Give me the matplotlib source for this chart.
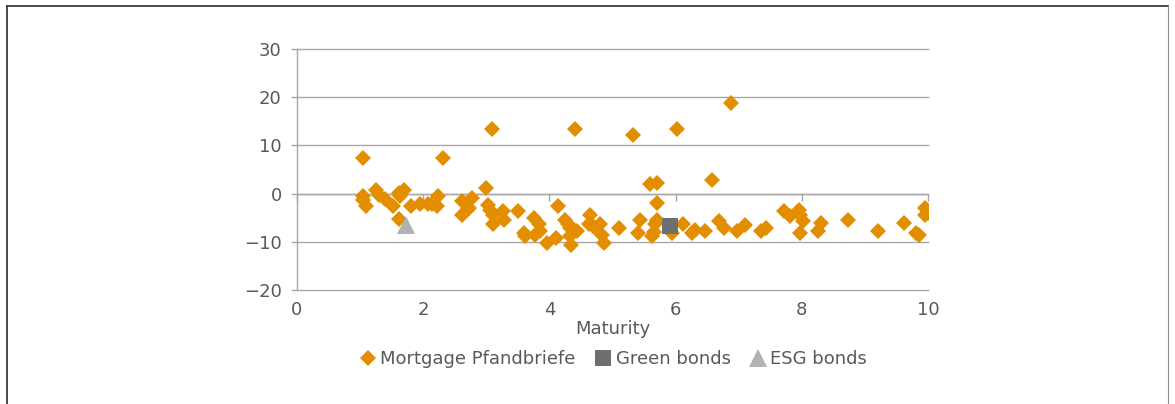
import matplotlib
matplotlib.use("Agg")
import matplotlib.pyplot as plt
from matplotlib.lines import Line2D

# ---- data ----
mortgage_x = [1.05, 1.05, 1.05, 1.10, 1.25, 1.30, 1.39, 1.52, 1.61, 1.69, 1.64, 1.62, 1.80, 1.95,
              2.07, 2.14, 2.23, 2.22, 2.32, 2.61, 2.61, 2.70, 2.78, 2.72, 2.99, 3.03, 3.06, 3.11,
              3.11, 3.09, 3.27, 3.28, 3.51, 3.59, 3.61, 3.75, 3.83, 3.77, 3.85, 3.96, 4.10, 4.14,
              4.25, 4.30, 4.33, 4.39, 4.33, 4.35, 4.43, 4.41, 4.64, 4.62, 4.70, 4.80, 4.83, 4.86,
              5.11, 5.32, 5.41, 5.44, 5.59, 5.70, 5.70, 5.62, 5.67, 5.70, 5.65, 5.95, 6.03, 6.12,
              6.26, 6.30, 6.47, 6.58, 6.68, 6.76, 6.88, 6.97, 7.10, 7.36, 7.44, 7.71, 7.81, 7.95,
              7.97, 8.02, 7.97, 8.31, 8.26, 8.74, 9.20, 9.62, 9.81, 9.85, 9.95, 10.0, 9.95]
mortgage_y = [7.4, -0.4, -1.4, -2.6, 0.7, -0.2, -1.2, -2.6, 0.1, 0.8, -0.5, -5.3, -2.6, -2.2,
              -2.1, -2.2, -0.4, -2.6, 7.4, -1.6, -4.4, -3.3, -0.9, -3.0, 1.2, -2.3, -3.3, -4.4,
              -6.4, 13.4, -3.7, -5.4, -3.7, -8.2, -8.9, -5.0, -6.4, -8.5, -7.8, -10.2, -9.2, -2.6,
              -5.4, -6.4, -7.1, -7.5, -8.9, -10.6, -7.8, 13.4, -4.4, -6.4, -7.0, -6.4, -8.5, -10.2,
              -7.1, 12.2, -8.2, -5.4, 1.9, 2.3, -1.9, -8.9, -6.4, -5.4, -8.0, -8.2, 13.4, -6.4,
              -8.2, -7.6, -7.8, 2.9, -5.7, -7.1, 18.9, -7.8, -6.6, -7.8, -7.1, -3.7, -4.7, -3.3,
              -4.4, -5.7, -8.2, -6.0, -7.8, -5.5, -7.8, -6.0, -8.2, -8.6, -3.0, -4.0, -4.4]
green_x = [5.91]
green_y = [-6.8]
esg_x = [1.73]
esg_y = [-6.6]

x_ticks = [0, 2, 4, 6, 8, 10]
y_ticks = [-20, -10, 0, 10, 20, 30]
series_names = ["Mortgage Pfandbriefe", "Green bonds", "ESG bonds"]
x_label = "Maturity"

# ---- style ----
orange = "#E38E00"
dark_gray = "#6F6F6F"
light_gray = "#B2B2B2"
text_col = "#595959"
grid_col = "#A6A6A6"
fs = 13

plt.rcParams['font.family'] = ['DejaVu Sans']

fig = plt.figure(figsize=(11.75, 4.04), dpi=100)
ax = fig.add_axes([297/1175, 1-290/404, (928-297)/1175, (290-49)/404])

ax.plot(mortgage_x, mortgage_y, linestyle='none', marker='D', markersize=8.6,
        color=orange, markeredgewidth=0, label=series_names[0], zorder=3)
ax.plot(green_x, green_y, linestyle='none', marker='s', markersize=11.5,
        color=dark_gray, markeredgewidth=0, label=series_names[1], zorder=4)
ax.plot(esg_x, esg_y, linestyle='none', marker='^', markersize=13,
        color=light_gray, markeredgewidth=0, label=series_names[2], zorder=4)

ax.set_xlim(0, 10)
ax.set_ylim(-20, 30)
ax.set_yticks(y_ticks)
ax.set_xticks(x_ticks)
ax.yaxis.grid(True, color=grid_col, linewidth=1.0)
for gl in ax.yaxis.get_gridlines():
    gl.set_clip_on(False)
ax.set_axisbelow(True)

for s in ['top', 'right']:
    ax.spines[s].set_visible(False)
ax.spines['left'].set_color(grid_col)
ax.spines['left'].set_linewidth(1.0)
ax.spines['bottom'].set_position(('data', 0))
ax.spines['bottom'].set_color(grid_col)
ax.spines['bottom'].set_linewidth(1.0)

ax.tick_params(axis='y', direction='out', length=4, width=1.0, color=grid_col,
               labelsize=fs, labelcolor=text_col, pad=7)
ax.tick_params(axis='x', direction='out', length=5, width=1.0, color=grid_col,
               labelbottom=False)

sec = ax.secondary_xaxis('bottom')
sec.set_xticks(x_ticks)
sec.spines['bottom'].set_visible(False)
sec.tick_params(axis='x', length=0, labelsize=fs, labelcolor=text_col, pad=8)
sec.set_xlabel(x_label, fontsize=fs, color=text_col, labelpad=1)

leg = fig.legend(loc='center', bbox_to_anchor=(613/1175, 1-359/404), ncol=3,
                 frameon=False, fontsize=fs, labelcolor=text_col,
                 handletextpad=0.2, columnspacing=1.0, handlelength=1.0,
                 markerscale=1.0)

# outer frame
fig.add_artist(Line2D([6.5/1175, 6.5/1175], [0, 1-5.5/404], color='#3c3c3c', linewidth=1.3,
                      transform=fig.transFigure))
fig.add_artist(Line2D([6.5/1175, 1167.5/1175], [1-5.5/404, 1-5.5/404], color='#3c3c3c',
                      linewidth=1.3, transform=fig.transFigure))
fig.add_artist(Line2D([1167.5/1175, 1167.5/1175], [0, 1-5.5/404], color='#8c8c8c',
                      linewidth=0.8, transform=fig.transFigure))

fig.savefig("out.png", dpi=100)
